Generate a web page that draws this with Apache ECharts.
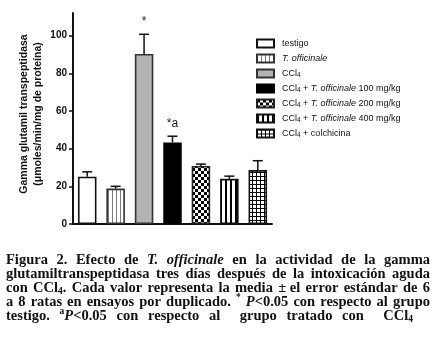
<!DOCTYPE html>
<html><head><meta charset="utf-8">
<script src="https://cdn.jsdelivr.net/npm/echarts@6/dist/echarts.min.js"></script>
<style>html,body{margin:0;padding:0;background:#fff}#c{width:436px;height:347px}</style>
</head><body><div id="c"></div>
<script>
// ---- data ----
const groups = ['testigo', 'T. officinale', 'CCl4', 'CCl4 + T. officinale 100 mg/kg',
  'CCl4 + T. officinale 200 mg/kg', 'CCl4 + T. officinale 400 mg/kg', 'CCl4 + colchicina'];
const means = [25.1, 18.8, 90.3, 43.3, 30.8, 24.0, 28.6];
const sems = [2.6, 1.2, 10.4, 3.3, 1.0, 1.4, 5.0];
const marks = ['', '', '*', '*a', '', '', ''];
const yTicks = [0, 20, 40, 60, 80, 100];
const yMax = 112;
const yTitle = ['Gamma glutamil transpeptidasa', '(\u03bcmoles/min/mg de prote\u00edna)'];
const caption = [
  'Figura 2. Efecto de <i>T. officinale</i> en la actividad de la gamma',
  'glutamiltranspeptidasa tres d\u00edas despu\u00e9s de la intoxicaci\u00f3n aguda',
  'con CCl<sub>4</sub>. Cada valor representa la media \u00b1\u00a0el error est\u00e1ndar de 6',
  'a 8 ratas en ensayos por duplicado. <sup>*</sup> <i>P</i><0.05 con respecto al grupo',
  'testigo. <sup>a</sup><i>P</i><0.05 con respecto al  grupo tratado con  CCl<sub>4</sub>'
];

// ---- patterns ----
function pat(w, h, draw) {
  const c = document.createElement('canvas'); c.width = w; c.height = h;
  const g = c.getContext('2d'); g.fillStyle = '#fff'; g.fillRect(0, 0, w, h); draw(g);
  return { image: c, repeat: 'repeat' };
}
const fills = [
  '#ffffff',
  pat(4, 4, g => { g.fillStyle = '#7a7a7a'; g.fillRect(0, 0, 1, 4); }),
  '#b2b4b4',
  '#000000',
  pat(6, 6, g => { g.fillStyle = '#000'; g.fillRect(0, 0, 3, 3); g.fillRect(3, 3, 3, 3); }),
  pat(5, 5, g => { g.fillStyle = '#000'; g.fillRect(0, 0, 2, 5); }),
  pat(4, 4, g => { g.fillStyle = '#000'; g.fillRect(0, 0, 4, 1); g.fillRect(0, 0, 1, 4); })
];
const borders = ['#111', '#333', '#333', '#000', '#222', '#111', '#111'];

const SANS = '"Liberation Sans", Arial, Helvetica, sans-serif';
const SERIF = '"Liberation Serif", "Times New Roman", serif';

const series = groups.map((name, i) => ({
  name, type: 'bar', barWidth: 18.5, barGap: '-100%',
  data: groups.map((_, j) => j === i ? means[i] : '-'),
  itemStyle: { color: fills[i], borderColor: borders[i], borderWidth: 1.6 },
  emphasis: { disabled: true }, z: 2
}));
series.push({
  type: 'custom', name: 'err', z: 5, silent: true,
  data: means.map((m, i) => [i, m, sems[i], marks[i]]),
  renderItem(params, api) {
    const i = api.value(0), m = api.value(1), e = api.value(2);
    const p0 = api.coord([i, m]), p1 = api.coord([i, m + e]);
    const ch = [
      { type: 'line', shape: { x1: p0[0], y1: p0[1], x2: p1[0], y2: p1[1] }, style: { stroke: '#111', lineWidth: 1.5 } },
      { type: 'line', shape: { x1: p1[0] - 5, y1: p1[1], x2: p1[0] + 5, y2: p1[1] }, style: { stroke: '#111', lineWidth: 1.5 } }
    ];
    const t = marks[params.dataIndex];
    if (t) ch.push({ type: 'text', x: p1[0], y: p1[1] - 13,
      style: { text: t, font: '12px ' + SANS, fill: '#222', align: 'center', verticalAlign: 'middle' } });
    return { type: 'group', children: ch };
  }
});

// ---- caption layout (justified) ----
const mctx = document.createElement('canvas').getContext('2d');
const CAP = 14.5;
function segFont(s) { const sz = (s.sub || s.sup) ? 9.5 : CAP; return (s.it ? 'italic ' : '') + 'bold ' + sz + 'px ' + SERIF; }
function parse(line) {
  const segs = []; const st = { it: false, sub: false, sup: false };
  const re = /<(\/?)(i|sub|sup)>/g; let last = 0, m;
  while ((m = re.exec(line))) {
    if (m.index > last) segs.push(Object.assign({ t: line.slice(last, m.index) }, st));
    st[m[2] === 'i' ? 'it' : m[2]] = !m[1]; last = re.lastIndex;
  }
  if (last < line.length) segs.push(Object.assign({ t: line.slice(last) }, st));
  return segs;
}
function words(segs) {
  const ws = [[]];
  segs.forEach(s => {
    const parts = s.t.split(' ');
    parts.forEach((p, k) => { if (k > 0) ws.push([]); if (p) ws[ws.length - 1].push(Object.assign({}, s, { t: p })); });
  });
  return ws;
}
function rawW(s) { mctx.font = segFont(s); return mctx.measureText(s.t).width; }
mctx.font = 'bold ' + CAP + 'px ' + SERIF;
const rawSp = mctx.measureText(' ').width;
const X0 = 6, X1 = 430, Y0 = 260, LH = 14, LASTX1 = 413;
const lineWords = caption.map((l, li) => {
  const ws = words(parse(l));
  return li === caption.length - 1 ? ws : ws.filter(w => w.length);
});
// horizontal condensing only if a justified line would not fit with a minimal gap
let SX = 1;
lineWords.forEach((ws, li) => {
  const tot = ws.reduce((a, w) => a + w.reduce((b, s) => b + rawW(s), 0), 0);
  const right = li === caption.length - 1 ? LASTX1 : X1;
  const fit = (right - X0 - (ws.length - 1) * rawSp * 0.75) / tot;
  SX = Math.min(SX, fit);
});
function segW(s) { return rawW(s) * SX; }
const capEls = [];
lineWords.forEach((ws, li) => {
  const right = li === caption.length - 1 ? LASTX1 : X1;
  const tot = ws.reduce((a, w) => a + w.reduce((b, s) => b + segW(s), 0), 0);
  const gap = (right - X0 - tot) / (ws.length - 1);
  let x = X0; const y = Y0 + li * LH;
  ws.forEach(w => {
    w.forEach(s => {
      capEls.push({ type: 'text', x: x, y: y + (s.sub ? 4 : s.sup ? -4 : 0), scaleX: SX, silent: true,
        style: { text: s.t, font: segFont(s), fill: '#111', align: 'left', verticalAlign: 'middle' } });
      x += segW(s);
    });
    x += gap;
  });
});

const legendRich = {
  s: { fontSize: 6.5, fontFamily: SANS, padding: [4, 0, 0, 0], lineHeight: 11, color: '#111' },
  i: { fontSize: 9, fontFamily: SANS, fontStyle: 'italic', lineHeight: 11, color: '#111' }
};

const chart = echarts.init(document.getElementById('c'), null, { renderer: 'canvas' });
chart.setOption({
  animation: false,
  backgroundColor: '#fff',
  grid: { left: 73, right: 164, top: 13, bottom: 123 },
  xAxis: { type: 'category', data: groups, axisLine: { lineStyle: { color: '#111', width: 2 } },
    axisTick: { show: false }, axisLabel: { show: false } },
  yAxis: { type: 'value', min: 0, max: yMax, interval: 20,
    axisLine: { show: true, lineStyle: { color: '#111', width: 2 } },
    axisTick: { show: true, length: 4, lineStyle: { color: '#111', width: 1.5 }, customValues: yTicks },
    axisLabel: { color: '#111', fontWeight: 'bold', fontSize: 10, fontFamily: SANS, margin: 6, customValues: yTicks },
    splitLine: { show: false } },
  legend: {
    data: groups, orient: 'vertical', left: 256, top: 38, padding: 0, itemWidth: 17, itemHeight: 8, itemGap: 4,
    icon: 'rect', selectedMode: false,
    textStyle: { fontSize: 9, fontFamily: SANS, color: '#111', lineHeight: 11, padding: [0, 0, 0, 3], rich: legendRich },
    formatter: n => n.replace('CCl4', 'CCl{s|4}').replace('T. officinale', '{i|T. officinale}')
  },
  series,
  graphic: [
    { type: 'text', x: 24, y: 114, rotation: Math.PI / 2, silent: true,
      style: { text: yTitle[0], font: 'bold 10.5px ' + SANS, fill: '#111', align: 'center', verticalAlign: 'middle' } },
    { type: 'text', x: 38, y: 114, rotation: Math.PI / 2, silent: true,
      style: { text: yTitle[1], font: 'bold 10.5px ' + SANS, fill: '#111', align: 'center', verticalAlign: 'middle' } }
  ].concat(capEls)
});
</script></body></html>
